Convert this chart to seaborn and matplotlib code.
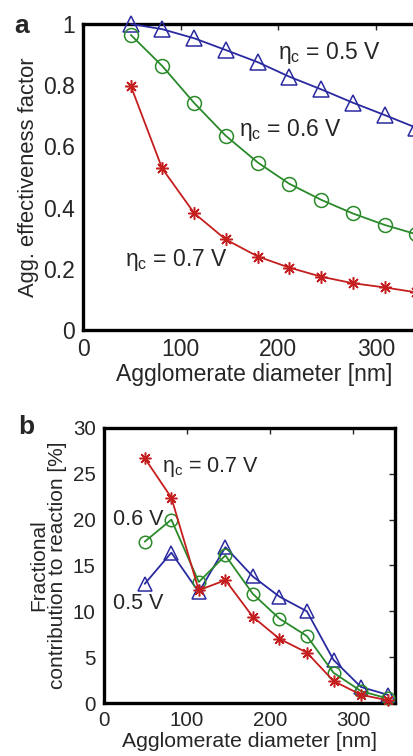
import numpy as np
import pandas as pd
import matplotlib
matplotlib.use("Agg")
import matplotlib.pyplot as plt
import seaborn as sns

sns.set_style("white")
plt.rcParams['font.family'] = ['Liberation Sans', 'DejaVu Sans']
plt.rcParams['mathtext.fontset'] = 'custom'
plt.rcParams['mathtext.rm'] = 'Liberation Sans'
plt.rcParams['mathtext.it'] = 'Liberation Sans'

# agglomerate diameters [nm]
diameter = [49, 81, 114, 146, 179, 211, 244, 276, 309, 341]

# panel a: agglomerate effectiveness factor
eff_05 = [1.0, 0.983, 0.953, 0.915, 0.875, 0.828, 0.786, 0.743, 0.702, 0.661]
eff_06 = [0.964, 0.863, 0.741, 0.635, 0.547, 0.478, 0.425, 0.381, 0.343, 0.313]
eff_07 = [0.797, 0.528, 0.381, 0.296, 0.240, 0.204, 0.174, 0.153, 0.139, 0.123]

# panel b: fractional contribution to reaction [%]
frac_05 = [13.0, 16.4, 12.1, 17.0, 13.8, 11.6, 10.0, 4.7, 1.75, 0.9]
frac_06 = [17.6, 20.0, 13.2, 16.1, 11.9, 9.2, 7.3, 3.3, 1.3, 0.5]
frac_07 = [26.7, 22.4, 12.3, 13.4, 9.4, 7.0, 5.5, 2.4, 0.9, 0.3]

blue = '#2A2AA0'
green = '#2A8A2A'
red = '#C41E1E'
star = (8, 2, 0)

fig = plt.figure(figsize=(4.14, 7.56), dpi=100)
ax1 = fig.add_axes([0.2005, 0.5635, 0.826, 0.4048])
ax2 = fig.add_axes([0.2512, 0.0701, 0.703, 0.3638])


def draw(ax, ys, ms):
    for y, col, mk, sz in zip(ys, [blue, green, red], ['^', 'o', star], ms):
        df = pd.DataFrame({'d': diameter, 'v': y})
        sns.lineplot(data=df, x='d', y='v', ax=ax, color=col, marker=mk,
                     markersize=sz, markerfacecolor='none', markeredgecolor=col,
                     markeredgewidth=1.1, linewidth=1.3, clip_on=False, zorder=3)


def style(ax, fs):
    for s in ax.spines.values():
        s.set_linewidth(2.4)
        s.set_color('black')
    ax.tick_params(direction='in', top=True, right=True, length=4, width=1,
                   labelsize=fs, pad=6)
    ax.set_xlim(0, 350)
    ax.set_xticks([0, 100, 200, 300])


draw(ax1, [eff_05, eff_06, eff_07], [11, 10, 9])
style(ax1, 16.5)
ax1.set_ylim(0, 1)
ax1.set_yticks([0, 0.2, 0.4, 0.6, 0.8, 1])
ax1.set_yticklabels(['0', '0.2', '0.4', '0.6', '0.8', '1'])
ax1.set_xlabel('Agglomerate diameter [nm]', fontsize=16.5, labelpad=1)
ax1.set_ylabel('Agg. effectiveness factor', fontsize=15.8, labelpad=3)
ax1.text(200, 0.905, r'$\mathregular{\eta_c}$ = 0.5 V', fontsize=16.5, va='center')
ax1.text(160, 0.654, r'$\mathregular{\eta_c}$ = 0.6 V', fontsize=16.5, va='center')
ax1.text(43, 0.229, r'$\mathregular{\eta_c}$ = 0.7 V', fontsize=16.5, va='center')

draw(ax2, [frac_05, frac_06, frac_07], [10, 9, 8.5])
style(ax2, 14.8)
ax2.set_ylim(0, 30)
ax2.set_yticks([0, 5, 10, 15, 20, 25, 30])
ax2.set_xlabel('Agglomerate diameter [nm]', fontsize=15.2, labelpad=1)
ax2.set_ylabel('Fractional\ncontribution to reaction [%]', fontsize=15,
               labelpad=4, linespacing=1.0)
ax2.text(70, 25.7, r'$\mathregular{\eta_c}$ = 0.7 V', fontsize=15.5, va='center')
ax2.text(11, 20.0, '0.6 V', fontsize=15.5, va='center')
ax2.text(11, 10.8, '0.5 V', fontsize=15.5, va='center')

fig.text(0.035, 0.965, 'a', fontsize=19, fontweight='bold', va='center')
fig.text(0.043, 0.435, 'b', fontsize=19, fontweight='bold', va='center')

fig.savefig('out.png', dpi=100)
